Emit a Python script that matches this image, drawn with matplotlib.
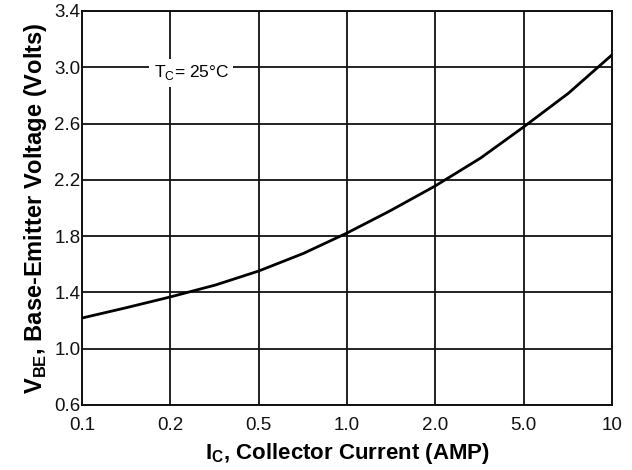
import matplotlib
matplotlib.use("Agg")

import matplotlib.pyplot as plt
import numpy as np

plt.rcParams["font.family"] = ["Liberation Sans", "DejaVu Sans"]
plt.rcParams["mathtext.fontset"] = "custom"
plt.rcParams["mathtext.rm"] = "Liberation Sans"
plt.rcParams["mathtext.bf"] = "Liberation Sans:bold"

# axis ticks (the chart spaces these evenly)
x_ticks = [0.1, 0.2, 0.5, 1.0, 2.0, 5.0, 10.0]
x_tick_labels = ["0.1", "0.2", "0.5", "1.0", "2.0", "5.0", "10"]
y_ticks = [0.6, 1.0, 1.4, 1.8, 2.2, 2.6, 3.0, 3.4]

# curve
ic_amp = [0.1, 0.14, 0.2, 0.32, 0.5, 0.71, 1.0, 1.4, 2.0, 3.2, 5.0, 7.1, 10.0]
vbe_volts = [1.218, 1.289, 1.368, 1.453, 1.552, 1.677, 1.822, 1.979, 2.157,
             2.355, 2.576, 2.815, 3.088]

log_ticks = np.log10(x_ticks)
idx = np.arange(len(x_ticks))


def forward(x):
    x = np.clip(np.asarray(x, dtype=float), 1e-6, None)
    return np.interp(np.log10(x), log_ticks, idx)


def inverse(t):
    return 10 ** np.interp(np.asarray(t, dtype=float), idx, log_ticks)


fig = plt.figure(figsize=(6.32, 4.70), dpi=100, facecolor="white")
ax = fig.add_axes([0.1297, 0.1383, 0.8386, 0.8383])
ax.set_xscale("function", functions=(forward, inverse))
ax.set_xlim(0.1, 10)
ax.set_ylim(0.6, 3.4)

ax.set_xticks(x_ticks)
ax.set_xticklabels(x_tick_labels)
ax.set_yticks(y_ticks)
ax.set_yticklabels([f"{v:.1f}" for v in y_ticks])
ax.xaxis.set_minor_locator(matplotlib.ticker.NullLocator())
ax.tick_params(axis="both", length=0, labelsize=13.5, colors="#111111")
ax.tick_params(axis="x", pad=9)
ax.tick_params(axis="y", pad=1)

ax.grid(True, color="#111111", linewidth=1.3)
ax.set_axisbelow(True)
for spine in ax.spines.values():
    spine.set_color("#111111")
    spine.set_linewidth(1.4)

ax.plot(ic_amp, vbe_volts, color="black", linewidth=2.0, zorder=3)

ax.text(0.206, 0.843, r"T$_\mathregular{C}$= 25°C", transform=ax.transAxes,
        fontsize=12.5, ha="center", va="center", zorder=4,
        bbox=dict(facecolor="white", edgecolor="none", pad=3))

ax.set_xlabel(r"I$_\mathbf{C}$, Collector Current (AMP)", fontsize=16,
              fontweight="bold", labelpad=5)
ax.set_ylabel(r"V$_\mathbf{BE}$, Base-Emitter Voltage (Volts)", fontsize=17,
              fontweight="bold", labelpad=4)

fig.savefig("out.png", facecolor="white")
